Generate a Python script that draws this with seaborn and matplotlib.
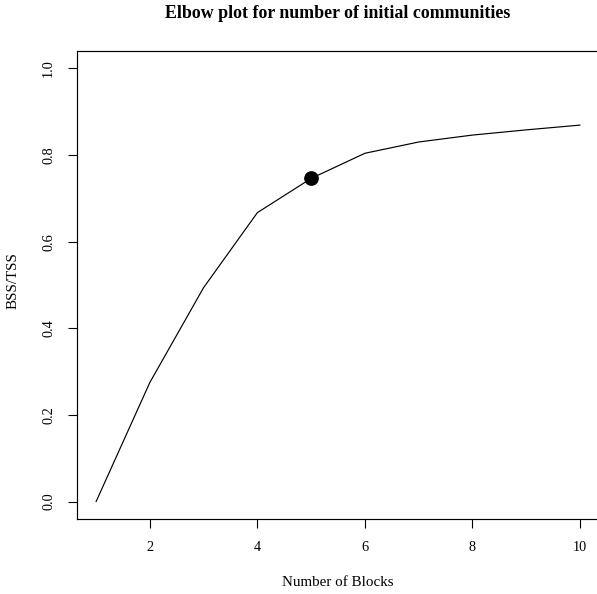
import matplotlib
matplotlib.use("Agg")
import matplotlib.pyplot as plt
import seaborn as sns
import pandas as pd

blocks = [1, 2, 3, 4, 5, 6, 7, 8, 9, 10]
bss_tss = [0.0, 0.275, 0.494, 0.667, 0.746, 0.804, 0.830, 0.846, 0.858, 0.869]
chosen_k = 5
xticks = [2, 4, 6, 8, 10]
yticks = [0.0, 0.2, 0.4, 0.6, 0.8, 1.0]
ytick_labels = ["0.0", "0.2", "0.4", "0.6", "0.8", "1.0"]

df = pd.DataFrame({"k": blocks, "v": bss_tss})
sel = df[df["k"] == chosen_k]

sns.set_theme(style="white")
plt.rcParams["font.family"] = ["Liberation Serif", "DejaVu Serif"]

W, H = 597, 594
fig = plt.figure(figsize=(W / 100, H / 100), dpi=100)
ax = fig.add_axes([76.7 / W, 75 / H, (599.4 - 76.7) / W, (519 - 51) / H])

sns.lineplot(data=df, x="k", y="v", ax=ax, color="black", linewidth=0.85)
sns.scatterplot(data=sel, x="k", y="v", ax=ax, color="black", s=112,
                edgecolor="black", linewidth=0, zorder=5)

ax.set_xlim(0.64, 10.36)
ax.set_ylim(-0.04, 1.04)
ax.set_xticks(xticks)
ax.set_xticklabels([str(t) for t in xticks])
ax.set_yticks(yticks)
ax.set_yticklabels(ytick_labels, rotation=90, va="center")

for name, s in ax.spines.items():
    s.set_visible(name != "right")
    s.set_color("black")
    s.set_linewidth(0.85)

ax.tick_params(axis="both", which="major", direction="out", length=6.5,
               width=0.8, color="black", labelsize=10.3, labelcolor="black",
               bottom=True, left=True)
ax.tick_params(axis="x", pad=9)
ax.tick_params(axis="y", pad=9)

ax.set_xlabel("")
ax.set_ylabel("")
fig.text(338 / W, 1 - 583 / H, "Number of Blocks", ha="center", va="center",
         fontsize=10.8, color="black")
fig.text(13.5 / W, 1 - 281 / H, "BSS/TSS", ha="center", va="center",
         rotation=90, fontsize=10.8, color="black")
fig.text(338 / W, 1 - 14 / H, "Elbow plot for number of initial communities",
         ha="center", va="center", fontsize=12.9, fontweight="bold", color="black")

fig.savefig("out.png", dpi=100, facecolor="white")
